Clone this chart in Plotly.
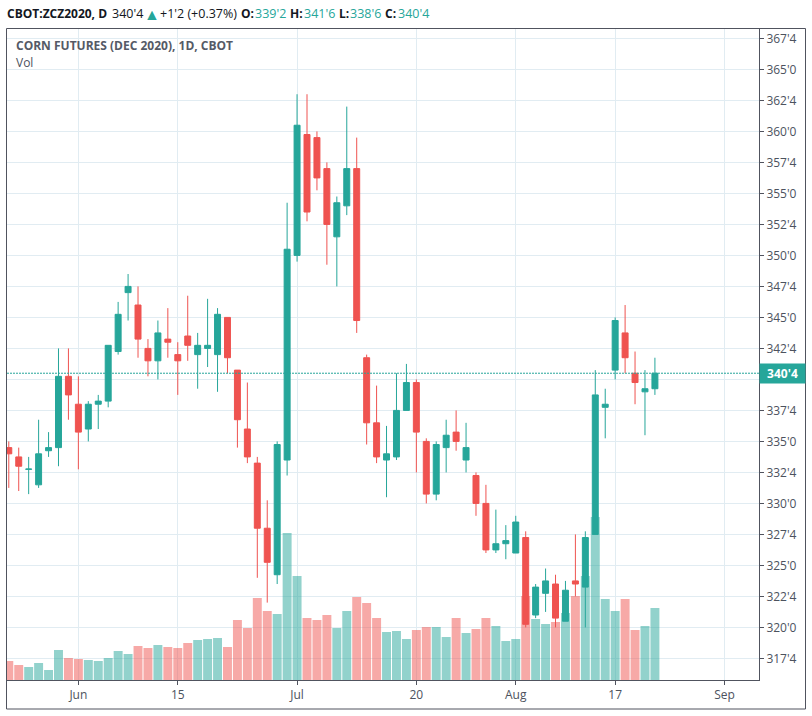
import plotly.graph_objects as go

W, H = 812, 716
LEFT, RIGHT, TOP, BOTTOM = 7, 759, 29, 680

dates = [
    "2020-05-20", "2020-05-21", "2020-05-22", "2020-05-26", "2020-05-27", "2020-05-28", "2020-05-29",
    "2020-06-01", "2020-06-02", "2020-06-03", "2020-06-04", "2020-06-05",
    "2020-06-08", "2020-06-09", "2020-06-10", "2020-06-11", "2020-06-12",
    "2020-06-15", "2020-06-16", "2020-06-17", "2020-06-18", "2020-06-19",
    "2020-06-22", "2020-06-23", "2020-06-24", "2020-06-25", "2020-06-26",
    "2020-06-29", "2020-06-30", "2020-07-01", "2020-07-02",
    "2020-07-06", "2020-07-07", "2020-07-08", "2020-07-09", "2020-07-10",
    "2020-07-13", "2020-07-14", "2020-07-15", "2020-07-16", "2020-07-17",
    "2020-07-20", "2020-07-21", "2020-07-22", "2020-07-23", "2020-07-24",
    "2020-07-27", "2020-07-28", "2020-07-29", "2020-07-30", "2020-07-31",
    "2020-08-03", "2020-08-04", "2020-08-05", "2020-08-06", "2020-08-07",
    "2020-08-10", "2020-08-11", "2020-08-12", "2020-08-13", "2020-08-14",
    "2020-08-17", "2020-08-18", "2020-08-19", "2020-08-20", "2020-08-21",
]
future_days = [
    "2020-08-24", "2020-08-25", "2020-08-26", "2020-08-27", "2020-08-28",
    "2020-08-31", "2020-09-01", "2020-09-02", "2020-09-03", "2020-09-04",
]

opens = [
    334.5, 333.75, 332.75, 331.5, 334.25, 334.5, 340.25,
    338, 336, 338, 338.25, 342.25,
    347, 346, 342.5, 341.5, 343.25,
    342, 343.5, 342, 342.5, 342,
    345, 340.75, 336, 333.25, 328,
    324.25, 333.5, 350, 359.75,
    359.5, 357, 351.5, 354, 357,
    341.75, 336.5, 333.5, 333.75, 337.5,
    339.75, 335, 330.75, 334.5, 335.75,
    333.5, 332.25, 330, 326.25, 326.75,
    326, 327.25, 321, 322.75, 323.5,
    320.5, 323.75, 323.25, 327.5, 337.75,
    340.75, 343.75, 340.5, 339, 339.25,
]
highs = [
    335, 334.5, 333.75, 336.75, 335.75, 342.5, 342.5,
    340.25, 338.25, 338.75, 342.75, 346.25,
    348.5, 347.5, 343.25, 344.75, 345.75,
    343, 346.75, 343.75, 346.5, 345.75,
    345, 340.75, 339.75, 333.75, 330.25,
    335, 354.25, 363, 363,
    360, 357.5, 354.75, 362, 359.5,
    342, 339.5, 336.25, 340.5, 341.25,
    340, 335.25, 335, 336.75, 337.5,
    336.5, 332.5, 331.5, 329.5, 328.25,
    329, 327.75, 323.5, 324.75, 324.25,
    323.75, 327.5, 327.75, 340.75, 339.25,
    345, 346, 342.25, 340.75, 341.75,
]
lows = [
    331.25, 331, 330.75, 331.25, 333.75, 333, 336.75,
    332.75, 335, 336, 337.75, 342,
    344.75, 341.75, 340.25, 340, 341.75,
    338.75, 341.5, 339.25, 341, 339,
    340.5, 334.5, 333.25, 324, 322,
    323.5, 332.25, 349.5, 352.75,
    355.25, 349.25, 347.5, 353.25, 343.75,
    334.75, 333.25, 330.5, 333.5, 337.5,
    332.5, 330, 330.25, 332.5, 334.25,
    332.5, 329, 326, 326, 325.5,
    326, 320, 320.75, 321.25, 320,
    320.5, 322.5, 320, 327.5, 335.25,
    340, 340.5, 338, 335.5, 338.75,
]
closes = [
    334, 333, 332.77, 334, 334.5, 340.25, 338.75,
    335.75, 338, 338.25, 342.75, 345.25,
    347.5, 343.25, 341.5, 343.75, 343,
    341.5, 342.75, 342.75, 342.75, 345.25,
    341.75, 336.75, 333.75, 328, 325.25,
    334.75, 350.5, 360.5, 353.5,
    356.25, 352.5, 354.25, 357, 344.75,
    336.5, 333.75, 334, 337.5, 339.75,
    335.75, 330.75, 334.75, 335.5, 335,
    334.5, 330, 326.25, 326.75, 327,
    328.5, 320.25, 323.25, 323.75, 320.75,
    323, 323.5, 327.25, 338.75, 338,
    344.75, 341.75, 339.75, 339.25, 340.5,
]
volumes = [
    19, 15, 13, 17, 10, 30, 22,
    21, 20, 19, 22, 29,
    26, 34, 32, 35, 33,
    32, 37, 40, 41, 42,
    33, 60, 52, 82, 69,
    66, 147, 104, 62,
    60, 65, 52, 69, 83,
    77, 62, 48, 49, 41,
    50, 53, 53, 43, 62,
    47, 51, 62, 54, 39,
    41, 84, 61, 56, 58,
    67, 84, 104, 163, 81,
    69, 81, 50, 54, 72,
]

# the 340'0 label sits under the last-price flag in the original, so it stays blank
price_ticks = [317.5, 320, 322.5, 325, 327.5, 330, 332.5, 335, 337.5, 340, 342.5,
               345, 347.5, 350, 352.5, 355, 357.5, 360, 362.5, 365, 367.5]
price_labels = ["317'4", "320'0", "322'4", "325'0", "327'4", "330'0", "332'4",
                "335'0", "337'4", "", "342'4", "345'0", "347'4", "350'0",
                "352'4", "355'0", "357'4", "360'0", "362'4", "365'0", "367'4"]
date_ticks = ["2020-06-01", "2020-06-15", "2020-07-01", "2020-07-20",
              "2020-08-03", "2020-08-17", "2020-09-01"]
date_labels = ["Jun", "15", "Jul", "20", "Aug", "17", "Sep"]

GREEN = "#26a69a"
RED = "#ef5350"
GRID = "#e1ecf2"
FRAME = "#50535e"
TEXT = "#4c525e"
FONT = "Open Sans"


def px(x):
    return (x - LEFT) / (RIGHT - LEFT)


def py(y):
    return (BOTTOM - y) / (BOTTOM - TOP)


vol_colors = ["rgba(38,166,154,0.5)" if c >= o else "rgba(239,83,80,0.5)"
              for o, c in zip(opens, closes)]

fig = go.Figure()
fig.add_trace(go.Bar(x=dates, y=volumes, marker=dict(color=vol_colors, line_width=0),
                     yaxis="y", showlegend=False))
fig.add_trace(go.Candlestick(
    x=dates, open=opens, high=highs, low=lows, close=closes, yaxis="y2",
    increasing=dict(line=dict(color=GREEN, width=1), fillcolor=GREEN),
    decreasing=dict(line=dict(color=RED, width=1), fillcolor=RED),
    whiskerwidth=0, showlegend=False,
))

# header row above the chart, every piece placed on its own
header = [
    (6, "<b>CBOT:ZCZ2020, D</b>", "#131722", 12),
    (111, "340'4", "#131722", 12.5),
    (143, "▲", GREEN, 16),
    (159, "+1'2 (+0.37%)", "#131722", 12.5),
    (240, "<b>O:</b>", "#131722", 12),
    (254, "339'2", GREEN, 12.5),
    (289, "<b>H:</b>", "#131722", 12),
    (303, "341'6", GREEN, 12.5),
    (338, "<b>L:</b>", "#131722", 12),
    (349, "338'6", GREEN, 12.5),
    (384, "<b>C:</b>", "#131722", 12),
    (397, "340'4", GREEN, 12.5),
]
annotations = [dict(xref="paper", yref="paper", x=px(x), y=py(14), text=t, showarrow=False,
                    xanchor="left", yanchor="middle", xshift=-1,
                    font=dict(family=FONT, size=s, color=c))
               for x, t, c, s in header]
annotations += [
    dict(xref="paper", yref="paper", x=px(15), y=py(45), text="<b>CORN FUTURES (DEC 2020), 1D, CBOT</b>",
         showarrow=False, xanchor="left", yanchor="middle", xshift=-1,
         font=dict(family=FONT, size=12, color="#555a66")),
    dict(xref="paper", yref="paper", x=px(15), y=py(62), text="Vol", showarrow=False,
         xanchor="left", yanchor="middle", xshift=-1,
         font=dict(family=FONT, size=12, color=TEXT)),
    dict(xref="paper", yref="y2", x=1, y=closes[-1], text="<b>340'4</b>", showarrow=False,
         xanchor="left", yanchor="middle", width=45, height=19, borderpad=0, bgcolor=GREEN,
         font=dict(family=FONT, size=12, color="white")),
]

shapes = [
    dict(type="rect", xref="paper", yref="paper", x0=px(6.5), x1=px(805.5), y0=py(709), y1=py(28.5),
         line=dict(color=FRAME, width=1)),
    dict(type="line", xref="paper", yref="y2", x0=0, x1=1, y0=closes[-1], y1=closes[-1],
         line=dict(color=GREEN, width=1, dash="2px,1px")),
]

fig.update_layout(
    width=W, height=H, margin=dict(l=LEFT, r=W - RIGHT, t=TOP, b=H - BOTTOM),
    autosize=False,
    paper_bgcolor="white", plot_bgcolor="white", bargap=0.1, boxgap=0.4, boxgroupgap=0,
    annotations=annotations, shapes=shapes,
    xaxis=dict(type="category", categoryorder="array", categoryarray=dates + future_days,
               range=[-0.18, 75.47], rangeslider=dict(visible=False),
               tickmode="array", tickvals=date_ticks, ticktext=date_labels,
               showgrid=True, gridcolor=GRID, gridwidth=1, zeroline=False,
               ticks="outside", ticklen=4, tickcolor=FRAME, showline=True, linecolor=FRAME, linewidth=1,
               tickfont=dict(family=FONT, size=12, color=TEXT)),
    yaxis=dict(range=[0, 651], visible=False, showgrid=False, zeroline=False),
    yaxis2=dict(overlaying="y", side="right", anchor="x", range=[315.76, 368.26],
                tickmode="array", tickvals=price_ticks, ticktext=price_labels,
                showgrid=True, gridcolor=GRID, gridwidth=1, zeroline=False,
                ticks="outside", ticklen=4, tickcolor=FRAME, showline=True, linecolor=FRAME, linewidth=1,
                tickfont=dict(family=FONT, size=12, color=TEXT)),
)

# the page's default body margin would push everything 8px down and right
fig.write_html("out.html", config={"displayModeBar": False},
               post_script="document.body.style.margin='0';document.body.style.overflow='hidden';")
